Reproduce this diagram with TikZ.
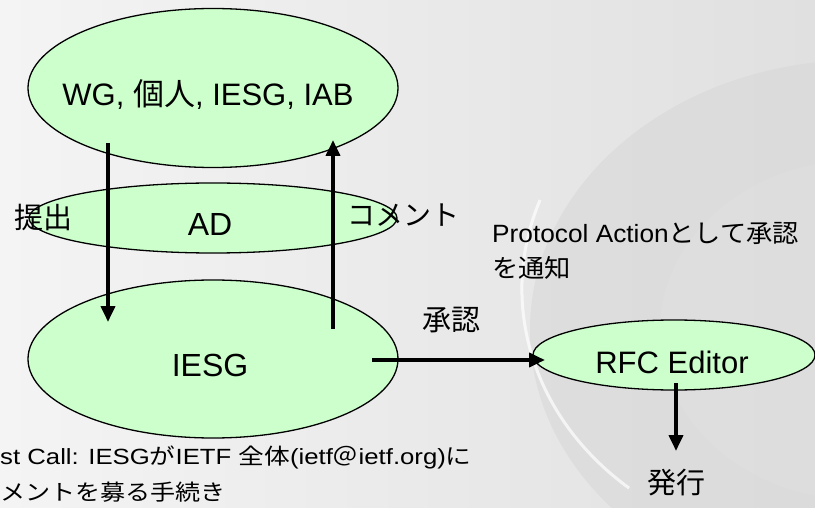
\documentclass[tikz,border=0pt]{standalone}
\usepackage{fontspec}
\setmainfont{Liberation Sans}
\newfontfamily\cjk{Noto Sans CJK JP}
\usetikzlibrary{shapes.geometric,arrows.meta}
\definecolor{nodegreen}{HTML}{CCFFCC}
\definecolor{bgleft}{HTML}{F4F4F4}
\definecolor{bgright}{HTML}{E0E0E0}
\definecolor{swirl}{HTML}{D8D8D8}
\tikzset{
  ell/.style={ellipse, draw=black, line width=1.3pt, fill=nodegreen, inner sep=0pt},
  flowarrow/.style={line width=3.8pt, -{Triangle[width=14pt,length=16pt]}},
  lbl/.style={inner sep=0pt, text=black},
}
\begin{document}
\begin{tikzpicture}[x=1pt,y=-1pt]
\useasboundingbox (0,0) rectangle (815,508);
\clip (0,0) rectangle (815,508);
% background
\shade[left color=bgleft, right color=bgright] (0,0) rectangle (815,508);
\fill[swirl, opacity=0.6] (860,330) ellipse (330 and 270);
\draw[white, line width=3pt, opacity=0.7] (540,200) arc (200:130:300 and 260);
\fill[bgright, opacity=0.5] (860,330) ellipse (200 and 170);

% ellipses
\node[ell, minimum width=370pt, minimum height=159pt] (wg) at (213,88) {};
\node[ell, minimum width=368pt, minimum height=70pt] (ad) at (213,218) {};
\node[ell, minimum width=370pt, minimum height=158pt] (iesg) at (213,359) {};
\node[ell, minimum width=282pt, minimum height=70pt] (rfc) at (674,355) {};

% texts in ellipses
\node[lbl, font=\fontsize{31pt}{35pt}\selectfont] (wgt) at (208,95) {WG, {\cjk 個人}, IESG, IAB};
\node[lbl, font=\fontsize{32pt}{36pt}\selectfont] (adt) at (210,224) {AD};
\node[lbl, font=\fontsize{32pt}{36pt}\selectfont] (iesgt) at (210,365) {IESG};
\node[lbl, font=\fontsize{31pt}{35pt}\selectfont] (rfct) at (672,362) {RFC Editor};

% arrows
\coordinate (a1s) at (108,143);
\coordinate (a1e) at (108,322);
\coordinate (a2s) at (333,329);
\coordinate (a2e) at (333,140);
\coordinate (a3s) at (372,360);
\coordinate (a3e) at (545,360);
\coordinate (a4s) at (676,383);
\coordinate (a4e) at (676,451);
\draw[flowarrow] (a1s) -- (a1e);
\draw[flowarrow] (a2s) -- (a2e);
\draw[flowarrow] (a3s) -- (a3e);
\draw[flowarrow] (a4s) -- (a4e);

% labels
\node[lbl, font=\cjk\fontsize{29pt}{33pt}\selectfont] (teishutsu) at (43,217) {提出};
\node[lbl, font=\cjk\fontsize{28pt}{32pt}\selectfont] (comment) at (403,215) {コメント};
\node[lbl, font=\cjk\fontsize{29pt}{33pt}\selectfont] (shonin) at (451,320) {承認};
\node[lbl, font=\cjk\fontsize{29pt}{33pt}\selectfont] (hakko) at (676,483) {発行};
\node[lbl, anchor=west, font=\fontsize{25pt}{29pt}\selectfont] (pa1) at (492,233) {\scalebox{1.05}[1]{Protocol Action{\cjk として承認}}};
\node[lbl, anchor=west, font=\cjk\fontsize{25pt}{29pt}\selectfont] (pa2) at (492,268) {\scalebox{1.05}[1]{を通知}};
\node[lbl, anchor=west, font=\fontsize{22pt}{26pt}\selectfont] (lc1) at (0,457) {\scalebox{1.17}[1]{st Call: IESG{\cjk が}IETF {\cjk 全体}(ietf{\cjk ＠}ietf.org){\cjk に}}};
\node[lbl, anchor=west, font=\cjk\fontsize{22pt}{26pt}\selectfont] (lc2) at (0,492) {\scalebox{1.14}[1]{メントを募る手続き}};
\end{tikzpicture}
\end{document}
